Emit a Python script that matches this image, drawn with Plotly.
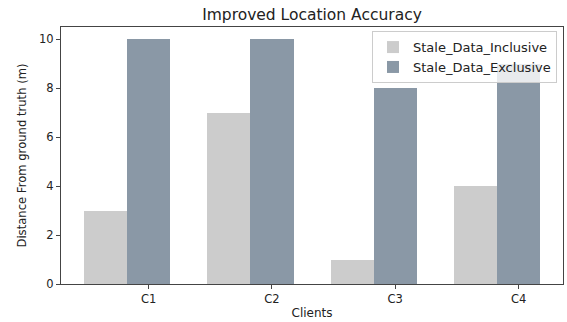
import plotly.graph_objects as go

# Per-client distance error (m) with and without stale data
clients = ["C1", "C2", "C3", "C4"]
stale_inclusive = [3, 7, 1, 4]
stale_exclusive = [10, 10, 8, 9]

bar_width = 0.35
base = list(range(len(clients)))
pos_incl = base
pos_excl = [b + bar_width for b in base]

fig = go.Figure()
fig.add_trace(go.Bar(
    x=pos_incl, y=stale_inclusive, width=bar_width,
    name="Stale_Data_Inclusive", marker=dict(color="#cccccc", line=dict(width=0)),
))
fig.add_trace(go.Bar(
    x=pos_excl, y=stale_exclusive, width=bar_width,
    name="Stale_Data_Exclusive", marker=dict(color="#8a98a6", line=dict(width=0)),
))

font = "DejaVu Sans, sans-serif"
axis_color = "#444444"

fig.update_layout(
    width=567, height=322,
    margin=dict(l=61, r=4, t=27, b=38),
    paper_bgcolor="white", plot_bgcolor="white",
    font=dict(family=font, size=11, color="#222222"),
    title=dict(text="Improved Location Accuracy", x=(61 + 563) / 2 / 567, xanchor="center",
               y=1 - 15 / 322, yanchor="middle", font=dict(size=15.5, color="#222222")),
    barmode="overlay",
    bargap=0,
    showlegend=True,
    legend=dict(
        x=0.988, xanchor="right", y=0.984, yanchor="top",
        bgcolor="rgba(255,255,255,0.8)", bordercolor="#cccccc", borderwidth=1,
        font=dict(size=13, color="#222222"),
        itemwidth=30, tracegroupgap=0,
    ),
)

fig.update_xaxes(
    range=[-0.36, 3.71],
    tickmode="array", tickvals=pos_excl, ticktext=clients,
    ticks="outside", ticklen=4, tickcolor=axis_color,
    showline=True, linecolor=axis_color, linewidth=1, mirror=True,
    showgrid=False, zeroline=False,
    title=dict(text="Clients", font=dict(size=12), standoff=3),
    tickfont=dict(size=11.5),
)
fig.update_yaxes(
    range=[0, 10.5],
    tickmode="array", tickvals=[0, 2, 4, 6, 8, 10],
    ticks="outside", ticklen=4, tickcolor=axis_color,
    showline=True, linecolor=axis_color, linewidth=1, mirror=True,
    showgrid=False, zeroline=False,
    title=dict(text="Distance From ground truth (m)", font=dict(size=11.6), standoff=9),
    tickfont=dict(size=11.5),
)

fig.write_html("out.html")
